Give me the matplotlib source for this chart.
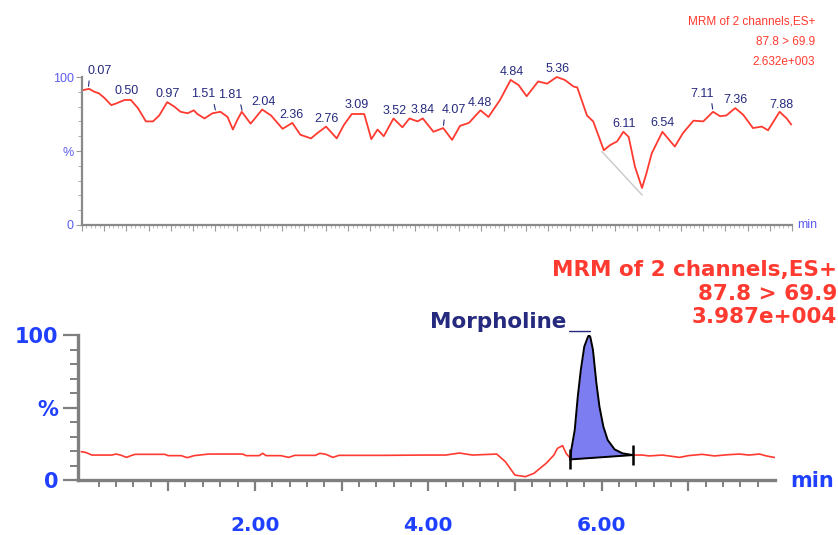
import numpy as np
import matplotlib
matplotlib.use("Agg")
import matplotlib.pyplot as plt
from matplotlib.transforms import offset_copy

# ---------------- data ----------------
# upper chromatogram (time in min, intensity %)
top_t = [0.00, 0.08, 0.14, 0.19, 0.25, 0.33, 0.38, 0.48, 0.55, 0.63,
         0.72, 0.80, 0.87, 0.96, 1.04, 1.11, 1.19, 1.26, 1.30, 1.38,
         1.47, 1.56, 1.64, 1.70, 1.75, 1.80, 1.90, 2.03, 2.13, 2.26,
         2.37, 2.46, 2.58, 2.65, 2.75, 2.87, 2.95, 3.04, 3.18, 3.26,
         3.33, 3.40, 3.51, 3.61, 3.69, 3.78, 3.84, 3.96, 4.07, 4.17,
         4.26, 4.36, 4.49, 4.58, 4.71, 4.83, 4.92, 5.01, 5.14, 5.24,
         5.35, 5.44, 5.54, 5.58, 5.69, 5.76, 5.88, 5.95, 6.03, 6.10,
         6.16, 6.23, 6.31, 6.36, 6.42, 6.54, 6.63, 6.68, 6.77, 6.89,
         7.00, 7.11, 7.19, 7.26, 7.36, 7.45, 7.56, 7.66, 7.73, 7.86,
         7.94, 7.99]
top_pct = [91, 92, 90, 89, 86, 81, 82, 84.5, 84.5, 79,
           70, 70, 74, 83, 80, 76.5, 75.5, 77.5, 75, 72,
           75.5, 76.5, 73, 64.5, 71, 76.5, 68.5, 78, 74, 65,
           69, 61, 58.5, 62, 66.5, 58.5, 67.5, 75, 75, 58,
           64.5, 60, 72, 66, 72, 70, 72, 63, 65.5, 57.5,
           67, 69, 77.5, 73, 84.5, 98, 94.5, 87, 97, 95.5,
           100, 98, 93.5, 93, 74, 70, 50.5, 54, 56.5, 63,
           59.5, 39.5, 25, 35, 48.5, 63, 56.5, 53, 62, 70.5,
           70, 76.5, 73.5, 74, 79, 74.5, 65.5, 66.5, 64, 76.5,
           72, 68]
top_peak_labels = ["0.07", "0.50", "0.97", "1.51", "1.81", "2.04", "2.36",
                   "2.76", "3.09", "3.52", "3.84", "4.07", "4.48", "4.84",
                   "5.36", "6.11", "6.54", "7.11", "7.36", "7.88"]
top_baseline_t = [5.86, 6.31]
top_baseline_pct = [49.5, 20.3]
top_header = ["MRM of 2 channels,ES+", "87.8 > 69.9", "2.632e+003"]

# lower chromatogram
bot_t = [0.00, 0.05, 0.12, 0.35, 0.40, 0.45, 0.52, 0.58, 0.62, 0.96,
         1.00, 1.15, 1.22, 1.30, 1.47, 1.86, 1.90, 2.05, 2.09, 2.13,
         2.30, 2.39, 2.46, 2.70, 2.75, 2.82, 2.90, 2.97, 3.50, 3.93,
         4.20, 4.36, 4.51, 4.79, 4.89, 5.00, 5.12, 5.22, 5.36, 5.45,
         5.49, 5.55, 5.59, 5.63]
bot_pct = [19.5, 19, 17.2, 17.2, 17.9, 17.2, 15.6, 17, 17.7, 17.7,
           16.8, 16.8, 15.4, 16.8, 17.9, 17.9, 16.8, 16.8, 18.4, 16.8,
           16.8, 15.6, 17, 17, 18.4, 17.7, 15.6, 17, 17, 17.2,
           17.2, 18.6, 17.2, 17.9, 12.6, 3.4, 2.3, 4.6, 11.5, 17.2,
           21.8, 23.7, 18.4, 15.6]
post_t = [6.36, 6.47, 6.55, 6.70, 6.90, 7.00, 7.16, 7.30, 7.45, 7.59,
          7.70, 7.82, 7.90, 7.99]
post_pct = [17.2, 17.2, 16.6, 17.2, 15.6, 16.8, 17.7, 16.6, 17.4, 17.9,
            17.2, 17.9, 16.6, 15.6]
peak_t = [5.64, 5.65, 5.69, 5.725, 5.76, 5.80, 5.84, 5.855, 5.87, 5.90,
          5.94, 5.975, 6.02, 6.07, 6.15, 6.24, 6.36]
peak_pct = [14.2, 20.7, 34.5, 57.5, 75.9, 92, 98.4, 100, 98.5, 89.7,
            66.7, 50.6, 36.8, 27.6, 21.1, 18.4, 17.2]
peak_name = "Morpholine"
bot_header = ["MRM of 2 channels,ES+", "87.8 > 69.9", "3.987e+004"]
bot_xticks = [2, 4, 6]
bot_xticklabels = ["2.00", "4.00", "6.00"]

# ---------------- styles ----------------
RED = "#ff3a30"
NAVY = "#262a7e"
BLUE = "#2040ff"
LBLUE = "#5c5cf0"
GRAY = "#7f7f7f"
narrow = ["Liberation Sans", "DejaVu Sans"]

W, H = 838, 535
fig = plt.figure(figsize=(W / 100, H / 100), dpi=100)

# ---------------- upper panel ----------------
ax1 = fig.add_axes([82 / W, 1 - 225 / H, (792 - 82) / W, (225 - 77) / H])
ax1.set_xlim(0, 8)
ax1.set_ylim(0, 100)
ax1.plot(top_t, top_pct, color=RED, lw=1.3, clip_on=False)
ax1.plot(top_baseline_t, top_baseline_pct, color="#c8c8c8", lw=1.0)
for s in ["top", "right"]:
    ax1.spines[s].set_visible(False)
for s in ["left", "bottom"]:
    ax1.spines[s].set_color("#8a8a8a")
    ax1.spines[s].set_linewidth(1.6)
ax1.set_xticks(np.arange(0, 8.01, 0.25))
ax1.set_xticks(np.arange(0, 8.01, 0.05), minor=True)
ax1.set_xticklabels([])
ax1.tick_params(axis="x", which="major", length=4, width=0.8, color="#9a9a9a")
ax1.tick_params(axis="x", which="minor", length=2, width=0.6, color="#b0b0b0")
ax1.set_yticks([0, 50, 100])
ax1.set_yticklabels(["0", "%", "100"], family=narrow, fontsize=9, color=LBLUE)
ax1.set_yticks(np.arange(0, 101, 10), minor=True)
ax1.tick_params(axis="y", which="major", length=4, width=0.8, color="#9a9a9a", pad=2)
ax1.tick_params(axis="y", which="minor", length=3, width=0.6, color="#9a9a9a")
ax1.annotate("min", xy=(1, 0), xycoords="axes fraction", xytext=(4, 0),
             textcoords="offset points", va="center", ha="left",
             family=narrow, fontsize=9, color=LBLUE)

leader = {"0.07": 8, "1.51": -9, "1.81": -9, "4.07": 8, "7.11": -8}
for lab in top_peak_labels:
    t = float(lab)
    v = np.interp(t, top_t, top_pct)
    if lab in leader:
        dx = leader[lab]
        ax1.annotate(lab, xy=(t, v), xytext=(dx, 11), textcoords="offset points",
                     ha="center", va="baseline", family=narrow, fontsize=9,
                     color=NAVY,
                     arrowprops=dict(arrowstyle="-", color=NAVY, lw=0.8,
                                     shrinkA=1, shrinkB=2,
                                     relpos=(0.1 if dx > 0 else 0.9, 0)))
    else:
        ax1.annotate(lab, xy=(t, v), xytext=(0, 4), textcoords="offset points",
                     ha="center", va="baseline", family=narrow, fontsize=9,
                     color=NAVY)

for i, line in enumerate(top_header):
    fig.text(815 / W, 1 - (22 + 20 * i) / H, line, ha="right", va="center",
             family=narrow, fontsize=8.5, color=RED)

# ---------------- lower panel ----------------
ax2 = fig.add_axes([78 / W, 1 - 480 / H, (775 - 78) / W, (480 - 335) / H])
ax2.set_xlim(-0.04, 8.0)
ax2.set_ylim(0, 100)
ax2.plot(bot_t, bot_pct, color=RED, lw=1.2)
ax2.plot(post_t, post_pct, color=RED, lw=1.2)
base = np.interp(peak_t, [peak_t[0], peak_t[-1]], [peak_pct[0], peak_pct[-1]])
ax2.fill_between(peak_t, base, peak_pct, color="#7d7df2", lw=0)
ax2.plot(peak_t, peak_pct, color="black", lw=1.4)
ax2.plot([peak_t[0], peak_t[-1]], [peak_pct[0], peak_pct[-1]], color="black", lw=1.4)
ax2.plot([peak_t[0], peak_t[-1]], [peak_pct[0], peak_pct[-1]], ls="none",
         marker="|", markersize=15, mew=1.8, color="black")

apex = int(np.argmax(peak_pct))
ax2.annotate(peak_name, xy=(peak_t[apex], peak_pct[apex]), xytext=(-16, 9),
             textcoords="offset points", ha="right", va="center",
             fontsize=15.5, fontweight="bold", color=NAVY)
tr = offset_copy(ax2.transData, fig=fig, x=1, y=2.5, units="points")
ax2.annotate("", xy=(peak_t[apex], peak_pct[apex]), xycoords=tr, xytext=(-15, 0),
             textcoords="offset points",
             arrowprops=dict(arrowstyle="-", color=NAVY, lw=1.0, shrinkA=0, shrinkB=0))

for s in ["top", "right"]:
    ax2.spines[s].set_visible(False)
for s in ["left", "bottom"]:
    ax2.spines[s].set_color(GRAY)
    ax2.spines[s].set_linewidth(2.4)
ax2.set_xticks(np.arange(1, 8, 1.0))
ax2.set_xticks(np.arange(0.2, 8.0, 0.2), minor=True)
lbls = [bot_xticklabels[bot_xticks.index(int(v))] if int(v) in bot_xticks else ""
        for v in np.arange(1, 8, 1.0)]
ax2.set_xticklabels(lbls, fontsize=14.5, fontweight="bold", color=BLUE)
ax2.tick_params(axis="x", which="major", length=8, width=1.6, color=GRAY, pad=18)
ax2.tick_params(axis="x", which="minor", length=5, width=1.4, color=GRAY)
ax2.set_yticks([0, 50, 100])
ax2.set_yticklabels(["0", "%", "100"], fontsize=15, fontweight="bold", color=BLUE)
ax2.set_yticks(np.arange(0, 101, 10), minor=True)
ax2.tick_params(axis="y", which="major", length=11, width=1.6, color=GRAY, pad=3)
ax2.tick_params(axis="y", which="minor", length=6, width=1.4, color=GRAY)
ax2.annotate("min", xy=(1, 0), xycoords="axes fraction", xytext=(11, -1),
             textcoords="offset points", va="center", ha="left",
             fontsize=15, fontweight="bold", color=BLUE)

for i, line in enumerate(bot_header):
    fig.text(837 / W, 1 - (270 + 23.5 * i) / H, line, ha="right", va="center",
             fontsize=15.5, fontweight="bold", color=RED)

fig.savefig("out.png", dpi=100)
